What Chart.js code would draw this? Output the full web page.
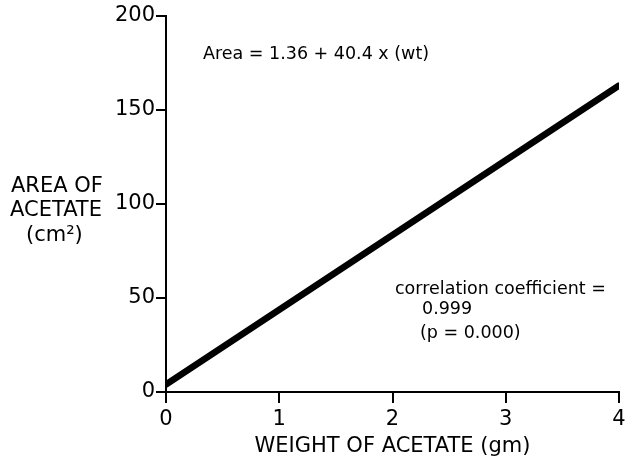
<!DOCTYPE html>
<html><head><meta charset="utf-8">
<script src="https://cdn.jsdelivr.net/npm/chart.js@4"></script>
<style>html,body{margin:0;padding:0;background:#fff}#wrap{width:634px;height:461px}</style>
</head><body><div id="wrap"><canvas id="c" width="634" height="461"></canvas></div>
<script>
const weights = [0, 4];
const areas = [4, 163];
const xTicks = [0, 1, 2, 3, 4];
const yTicks = [0, 50, 100, 150, 200];
const yTitleLines = ["AREA OF", "ACETATE", "(cm²)"];
const xTitle = "WEIGHT OF ACETATE (gm)";
const equationText = "Area = 1.36 + 40.4 x (wt)";
const corrLines = ["correlation coefficient =", "0.999", "(p = 0.000)"];

const FONT = "'DejaVu Sans', sans-serif";

const textPlugin = {
  id: 'texts',
  afterDraw(chart) {
    const ctx = chart.ctx;
    ctx.save();
    ctx.fillStyle = '#000';
    ctx.textBaseline = 'middle';
    ctx.font = "21px " + FONT;
    ctx.textAlign = 'left';
    ctx.fillText(yTitleLines[0], 11, 187);
    ctx.fillText(yTitleLines[1], 10, 211);
    ctx.fillText(yTitleLines[2], 26, 236);
    ctx.font = "17.5px " + FONT;
    ctx.fillText(equationText, 203, 54);
    ctx.fillText(corrLines[0], 395, 289);
    ctx.fillText(corrLines[1], 422, 309);
    ctx.fillText(corrLines[2], 420, 333);
    ctx.restore();
  }
};

new Chart(document.getElementById('c'), {
  type: 'line',
  data: {
    datasets: [{
      data: weights.map((w, i) => ({x: w, y: areas[i]})),
      borderColor: '#000',
      borderWidth: 6.5,
      pointRadius: 0,
      borderCapStyle: 'round',
      fill: false
    }]
  },
  options: {
    responsive: false,
    animation: false,
    layout: {padding: {top: 16, right: 15, left: 0, bottom: 0}},
    plugins: {legend: {display: false}, tooltip: {enabled: false}},
    scales: {
      x: {
        type: 'linear', min: 0, max: 4,
        afterFit(s) { s.height = 69; },
        afterBuildTicks(s) { s.ticks = xTicks.map(v => ({value: v})); },
        grid: {drawOnChartArea: false, drawTicks: true, tickLength: 11, color: '#000', lineWidth: 2},
        border: {color: '#000', width: 2},
        ticks: {color: '#000', font: {family: FONT, size: 21}, padding: 4, maxRotation: 0},
        title: {display: true, text: xTitle, color: '#000', font: {family: FONT, size: 21}, padding: {top: 0, bottom: 2}}
      },
      y: {
        type: 'linear', min: 0, max: 200,
        afterFit(s) { s.width = 166; },
        afterBuildTicks(s) { s.ticks = yTicks.map(v => ({value: v})); },
        grid: {drawOnChartArea: false, drawTicks: true, tickLength: 10, color: '#000', lineWidth: 2},
        border: {color: '#000', width: 2},
        ticks: {color: '#000', font: {family: FONT, size: 21}, padding: 1}
      }
    }
  },
  plugins: [textPlugin]
});
</script></body></html>
